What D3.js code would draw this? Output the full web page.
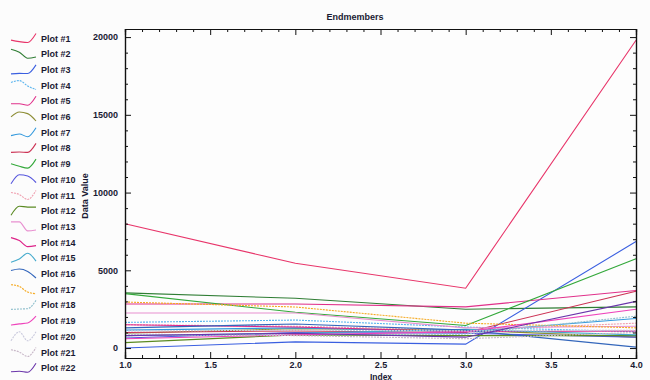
<!DOCTYPE html>
<html>
<head>
<meta charset="utf-8">
<script src="https://cdn.jsdelivr.net/npm/d3@7"></script>
<style>
  body { margin: 0; background: #fcfcfc; }
  svg { font-family: "Liberation Sans", Arial, sans-serif; font-weight: bold; }
  .axis path, .axis line { stroke: #111; }
  .axis text { fill: #1a1a33; font-size: 9px; font-weight: bold; }
</style>
</head>
<body>
<script>
const index = [1, 2, 3, 4]
const plotNames = d3.range(1, 23).map(i => `Plot #${i}`)
const plotColors = [
  '#e8356a', '#2f7d34', '#3a5fe0', '#5ab4ee', '#e0308a', '#8d8d35',
  '#3399dd', '#cc3355', '#33a83a', '#5555dd', '#f0a0b0', '#5a8a22',
  '#e890d0', '#dd2288', '#44aacc', '#3366bb', '#f5aa22', '#8fbfcc',
  '#ee44bb', '#c8c8dc', '#c8b8c8', '#6a35aa'
]
const dotted = [4, 11, 17, 18, 20, 21]
const plotValues = [
  [8000, 5450, 3850, 19800],
  [3550, 3200, 2500, 2650],
  [0, 400, 250, 6850],
  [1650, 1800, 1350, 1050],
  [2830, 2830, 2650, 3700],
  [950, 1250, 1150, 700],
  [1150, 1300, 1050, 1900],
  [1000, 1100, 1000, 3650],
  [3500, 2300, 1450, 5750],
  [650, 1000, 950, 700],
  [1500, 1400, 1150, 1600],
  [350, 850, 800, 800],
  [2250, 2250, 1300, 1400],
  [1500, 1350, 1050, 1100],
  [800, 950, 1200, 850],
  [1300, 1550, 1150, 60],
  [2960, 2640, 1600, 1300],
  [800, 850, 900, 2050],
  [600, 850, 1050, 2500],
  [1100, 1150, 1100, 1150],
  [900, 800, 600, 1000],
  [800, 950, 700, 3000]
]
const xMajor = [1.0, 1.5, 2.0, 2.5, 3.0, 3.5, 4.0]
const yMajor = [0, 5000, 10000, 15000, 20000]

const width = 650
const height = 380
const pLeft = 125, pRight = 636, pTop = 29, pBottom = 358

const x = d3.scaleLinear().domain([1, 4]).range([pLeft, pRight])
const y = d3.scaleLinear().domain([-640, 20520]).range([pBottom, pTop])

const svg = d3.select('body').append('svg')
  .attr('width', width)
  .attr('height', height)

svg.append('rect')
  .attr('x', pLeft).attr('y', pTop)
  .attr('width', pRight - pLeft).attr('height', pBottom - pTop)
  .attr('fill', '#fdfdfd')

// lines
const line = d3.line()
  .x((d, i) => x(index[i]))
  .y(d => y(d))

svg.append('g')
  .selectAll('path')
  .data(plotValues)
  .enter()
  .append('path')
    .attr('d', line)
    .attr('fill', 'none')
    .attr('stroke', (d, i) => plotColors[i])
    .attr('stroke-width', 1.1)
    .attr('stroke-dasharray', (d, i) => dotted.includes(i + 1) ? '2,1' : null)

// axes, ticks pointing inward
const xMinor = d3.range(10, 41).map(v => v / 10).filter(v => !xMajor.includes(v))
const yMinor = d3.range(0, 21).map(v => v * 1000).filter(v => !yMajor.includes(v))

const addAxis = (axis, tx, ty) => svg.append('g')
  .attr('class', 'axis')
  .attr('transform', `translate(${tx},${ty})`)
  .call(axis)

addAxis(d3.axisBottom(x).tickValues(xMinor).tickSize(-3).tickFormat(''), 0, pBottom)
addAxis(d3.axisBottom(x).tickValues(xMajor).tickSize(-6).tickPadding(4).tickFormat(d3.format('.1f')), 0, pBottom)
addAxis(d3.axisTop(x).tickValues(xMinor).tickSize(-3).tickFormat(''), 0, pTop)
addAxis(d3.axisTop(x).tickValues(xMajor).tickSize(-6).tickFormat(''), 0, pTop)
addAxis(d3.axisLeft(y).tickValues(yMinor).tickSize(-3).tickFormat(''), pLeft, 0)
addAxis(d3.axisLeft(y).tickValues(yMajor).tickSize(-6).tickPadding(7).tickFormat(d3.format('d')), pLeft, 0)
addAxis(d3.axisRight(y).tickValues(yMinor).tickSize(-3).tickFormat(''), pRight, 0)
addAxis(d3.axisRight(y).tickValues(yMajor).tickSize(-6).tickFormat(''), pRight, 0)

svg.selectAll('.axis .domain').attr('stroke-width', 1.2)

// titles
svg.append('text')
  .attr('x', 355).attr('y', 20)
  .attr('text-anchor', 'middle')
  .attr('font-size', 9)
  .attr('fill', '#1a1a33')
  .text('Endmembers')

svg.append('text')
  .attr('x', 381).attr('y', 379.5)
  .attr('text-anchor', 'middle')
  .attr('font-size', 8.5)
  .attr('fill', '#1a1a33')
  .text('Index')

svg.append('text')
  .attr('transform', 'translate(88,196) rotate(-90)')
  .attr('text-anchor', 'middle')
  .attr('font-size', 9)
  .attr('fill', '#1a1a33')
  .text('Data Value')

// legend with small sample of each series
const legendY = i => 38.5 + i * 15.7
const sx = d3.scaleLinear().domain([1, 4]).range([11, 36])

const legend = svg.append('g')
  .selectAll('g')
  .data(plotValues)
  .enter()
  .append('g')

legend.append('path')
  .attr('fill', 'none')
  .attr('stroke', (d, i) => plotColors[i])
  .attr('stroke-width', 1.1)
  .attr('stroke-dasharray', (d, i) => dotted.includes(i + 1) ? '2,1' : null)
  .attr('d', (d, i) => {
    const cy = legendY(i)
    const sy = d3.scaleLinear().domain(d3.extent(d)).range([cy + 4, cy - 5])
    return d3.line().curve(d3.curveMonotoneX).x((v, j) => sx(index[j])).y(v => sy(v))(d)
  })

legend.append('text')
  .attr('x', 41)
  .attr('y', (d, i) => legendY(i) + 3)
  .attr('font-size', 9)
  .attr('fill', '#1a1a33')
  .text((d, i) => plotNames[i])
</script>
</body>
</html>
